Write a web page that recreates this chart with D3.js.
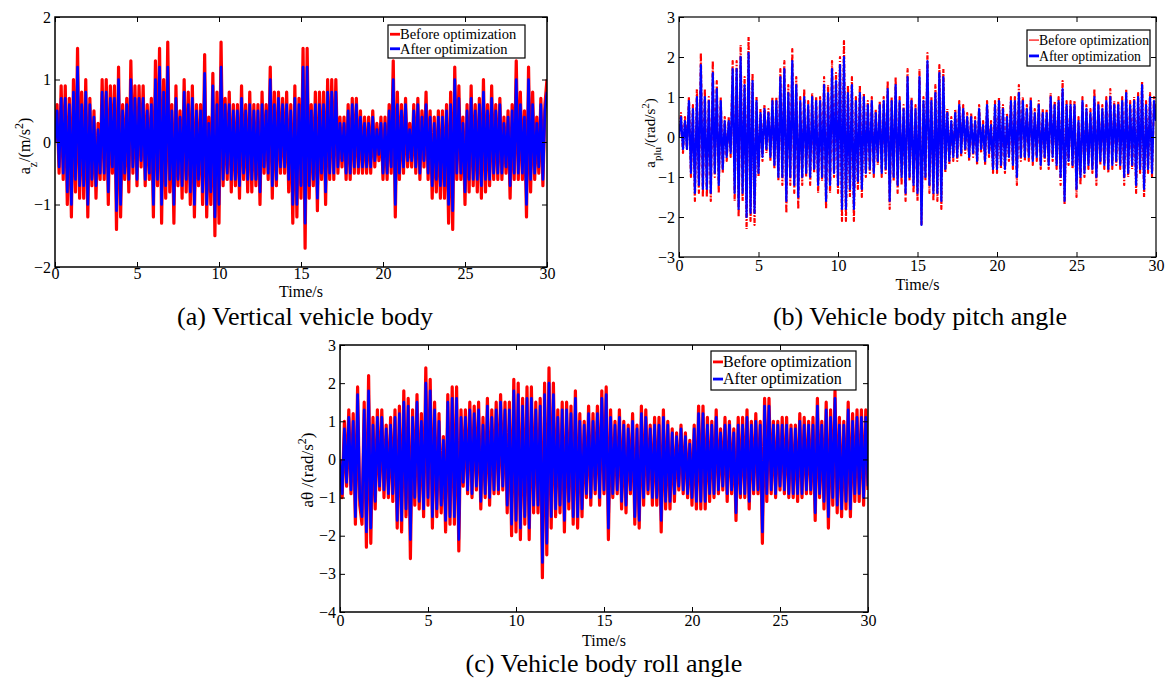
<!DOCTYPE html>
<html>
<head>
<meta charset="utf-8">
<style>
  body { margin: 0; background: #fff; }
  svg text { font-family: "Liberation Serif", "Times New Roman", serif; fill: #000; }
</style>
</head>
<body>
<svg id="fig" width="1168" height="680"></svg>
<script src="https://cdn.jsdelivr.net/npm/d3@7/dist/d3.min.js"></script>
<script>
// sample step of every series, seconds
var dt = 0.125;
var timeTicks = [0, 5, 10, 15, 20, 25, 30];
var seriesNames = ['Before optimization', 'After optimization'];

// (a) vertical body acceleration, m/s^2
var vertBefore = [
  0, 0.6, -0.5, 0.9, -0.6, 0.9, -1.0, 0.7,
  -1.2, 1.0, -0.8, 1.5, -0.9, 0.8, -0.9, 1.0,
  -1.2, 0.7, -0.7, 0.5, -0.9, 0.3, -0.6, 1.0,
  -0.6, 1.0, -1.0, 0.9, -0.5, 0.9, -1.4, 1.2,
  -1.2, 0.6, -0.6, 0.7, -0.8, 1.3, -0.5, 0.9,
  -0.7, 0.9, -0.4, 0.9, -0.7, 0.6, -0.6, 0.7,
  -1.2, 1.3, -0.7, 1.5, -1.3, 1.0, -0.9, 1.6,
  -0.8, 0.6, -1.3, 0.9, -0.7, 0.5, -0.9, 1.0,
  -0.8, 0.8, -1.0, 0.9, -1.2, 0.6, -0.7, 0.6,
  -1.0, 1.4, -1.2, 0.4, -1.0, 1.1, -1.5, 0.8,
  -1.3, 1.6, -0.7, 0.7, -0.6, 0.8, -0.8, 0.6,
  -0.7, 0.6, -0.9, 0.9, -0.6, 0.6, -0.8, 0.8,
  -0.8, 0.6, -0.7, 0.6, -1.0, 0.8, -0.5, 0.6,
  -0.6, 1.2, -0.9, 0.8, -0.7, 0.8, -0.5, 0.7,
  -0.5, 0.8, -0.8, 0.6, -1.3, 0.9, -1.2, 0.7,
  -0.9, 1.5, -1.7, 1.5, -0.9, 0.6, -0.7, 0.8,
  -1.1, 0.8, -0.6, 0.8, -1.0, 1.0, -0.6, 1.0,
  -0.6, 1.0, -0.5, 0.4, -0.4, 0.4, -0.6, 0.6,
  -0.6, 0.7, -0.5, 0.7, -0.5, 0.5, -0.5, 0.4,
  -0.5, 0.4, -0.5, 0.5, -0.4, 0.3, -0.3, 0.4,
  -0.6, 0.4, -0.6, 0.6, -0.5, 1.3, -1.2, 0.8,
  -0.6, 0.6, -0.5, 0.7, -0.4, 0.3, -0.4, 0.6,
  -0.5, 0.7, -0.6, 0.5, -0.4, 0.8, -0.6, 0.5,
  -0.9, 0.4, -0.8, 0.5, -0.9, 0.5, -0.9, 0.6,
  -1.3, 0.8, -1.4, 1.2, -0.6, 0.9, -0.6, 0.4,
  -1.0, 0.6, -0.8, 0.9, -0.7, 0.6, -0.8, 0.7,
  -0.9, 1.0, -0.8, 0.6, -0.7, 0.9, -0.6, 0.6,
  -0.6, 0.7, -0.6, 0.4, -0.5, 0.5, -0.9, 0.6,
  -0.6, 1.3, -0.6, 0.8, -0.6, 0.5, -1.2, 1.2,
  -0.8, 0.8, -0.6, 0.4, -0.5, 0.7, -0.7, 0.6,
  1.0
];
var vertAfter = [
  0, 0.5, -0.4, 0.7, -0.5, 0.7, -0.8, 0.6,
  -1.0, 0.8, -0.6, 1.2, -0.7, 0.6, -0.7, 0.8,
  -1.0, 0.6, -0.6, 0.4, -0.7, 0.2, -0.5, 0.8,
  -0.5, 0.8, -0.8, 0.7, -0.4, 0.7, -1.1, 1.0,
  -1.0, 0.5, -0.5, 0.6, -0.6, 1.0, -0.4, 0.7,
  -0.6, 0.7, -0.3, 0.7, -0.6, 0.5, -0.5, 0.6,
  -1.0, 1.0, -0.6, 1.2, -1.0, 0.8, -0.7, 1.2,
  -0.6, 0.5, -1.0, 0.7, -0.6, 0.4, -0.7, 0.8,
  -0.6, 0.6, -0.8, 0.7, -1.0, 0.5, -0.6, 0.5,
  -0.8, 1.1, -1.0, 0.3, -0.8, 0.9, -1.2, 0.6,
  -1.0, 1.2, -0.6, 0.6, -0.5, 0.6, -0.6, 0.5,
  -0.6, 0.5, -0.7, 0.7, -0.5, 0.5, -0.6, 0.6,
  -0.6, 0.5, -0.6, 0.5, -0.8, 0.6, -0.4, 0.5,
  -0.5, 1.0, -0.7, 0.6, -0.6, 0.7, -0.4, 0.6,
  -0.4, 0.6, -0.6, 0.5, -1.0, 0.7, -1.0, 0.6,
  -0.7, 1.2, -1.3, 1.2, -0.7, 0.5, -0.6, 0.6,
  -0.9, 0.6, -0.5, 0.6, -0.8, 0.8, -0.5, 0.8,
  -0.5, 0.8, -0.4, 0.3, -0.3, 0.3, -0.5, 0.5,
  -0.5, 0.6, -0.4, 0.6, -0.4, 0.4, -0.4, 0.3,
  -0.4, 0.3, -0.4, 0.4, -0.3, 0.2, -0.2, 0.3,
  -0.5, 0.3, -0.5, 0.5, -0.4, 1.0, -1.0, 0.6,
  -0.5, 0.5, -0.4, 0.6, -0.3, 0.2, -0.3, 0.5,
  -0.4, 0.6, -0.5, 0.4, -0.3, 0.6, -0.5, 0.4,
  -0.7, 0.3, -0.6, 0.4, -0.7, 0.4, -0.7, 0.5,
  -1.0, 0.6, -1.1, 1.0, -0.5, 0.7, -0.5, 0.3,
  -0.8, 0.5, -0.6, 0.7, -0.6, 0.5, -0.6, 0.6,
  -0.7, 0.8, -0.6, 0.5, -0.6, 0.7, -0.5, 0.5,
  -0.5, 0.6, -0.5, 0.3, -0.4, 0.4, -0.7, 0.5,
  -0.5, 1.0, -0.5, 0.6, -0.5, 0.4, -1.0, 1.0,
  -0.6, 0.6, -0.5, 0.3, -0.4, 0.6, -0.6, 0.5,
  0.8
];

// (b) pitch angular acceleration, rad/s^2
var pitchBefore = [
  0, 0.6, -0.4, 0.5, -0.3, 1.0, -1.0, 0.8,
  -1.6, 1.2, -1.4, 2.1, -1.5, 1.2, -1.5, 1.0,
  -1.6, 1.9, -1.0, 1.4, -1.4, 1.0, -0.9, 0.5,
  -0.6, 0.5, -0.5, 1.9, -1.6, 1.9, -2.0, 2.3,
  -1.6, 1.5, -2.3, 2.5, -2.1, 1.6, -2.2, 1.0,
  -1.0, 0.7, -0.6, 0.8, -0.4, 0.7, -0.6, 1.0,
  -0.8, 1.0, -1.1, 1.7, -1.2, 1.9, -1.9, 1.3,
  -1.2, 2.2, -1.4, 1.5, -1.8, 1.0, -1.2, 1.2,
  -1.0, 0.9, -1.2, 1.1, -0.9, 1.0, -1.4, 1.0,
  -1.1, 1.5, -1.8, 1.3, -1.4, 1.9, -1.0, 1.6,
  -1.4, 2.0, -2.1, 2.4, -2.1, 1.3, -1.5, 1.5,
  -2.1, 1.0, -1.3, 1.3, -1.5, 1.1, -1.0, 0.9,
  -0.9, 1.0, -1.0, 0.7, -0.7, 0.9, -1.0, 1.0,
  -0.9, 1.4, -1.8, 1.0, -1.1, 1.5, -1.4, 1.0,
  -1.2, 0.8, -1.6, 1.7, -1.1, 1.0, -1.4, 0.8,
  -1.6, 1.7, -2.2, 1.0, -1.1, 2.1, -1.4, 1.0,
  -1.6, 1.3, -1.6, 1.8, -1.8, 1.7, -0.9, 0.7,
  -0.7, 0.5, -0.6, 0.7, -0.6, 0.9, -0.5, 0.8,
  -0.4, 0.6, -0.6, 0.6, -0.5, 0.5, -0.7, 0.8,
  -0.4, 0.4, -0.7, 0.9, -0.5, 0.4, -0.9, 0.9,
  -0.9, 1.0, -0.8, 0.8, -0.9, 0.6, -0.6, 1.0,
  -0.8, 1.0, -1.2, 1.3, -0.6, 1.0, -0.6, 0.8,
  -0.6, 1.0, -0.7, 0.7, -0.6, 0.9, -0.8, 0.7,
  -0.6, 0.7, -0.8, 1.1, -0.6, 0.9, -0.8, 1.0,
  -1.2, 1.4, -1.7, 0.9, -0.7, 0.9, -0.8, 0.9,
  -1.5, 0.5, -1.2, 1.0, -1.0, 0.8, -0.8, 0.7,
  -0.9, 1.2, -1.2, 0.9, -0.7, 0.8, -0.8, 1.0,
  -0.9, 1.2, -0.8, 0.9, -0.7, 0.9, -0.8, 1.0,
  -1.2, 1.2, -1.0, 0.9, -0.8, 1.0, -1.4, 1.1,
  -0.9, 1.4, -1.5, 0.9, -0.9, 1.1, -1.0, 1.0,
  0.5
];
var pitchAfter = [
  0, 0.5, -0.3, 0.4, -0.3, 0.9, -0.9, 0.7,
  -1.4, 1.0, -1.2, 1.8, -1.3, 1.0, -1.3, 0.9,
  -1.4, 1.6, -0.9, 1.2, -1.2, 0.9, -0.8, 0.4,
  -0.5, 0.4, -0.4, 1.7, -1.4, 1.7, -1.8, 2.0,
  -1.4, 1.3, -2.0, 2.1, -1.9, 1.4, -1.9, 0.9,
  -0.9, 0.6, -0.5, 0.7, -0.3, 0.6, -0.5, 0.9,
  -0.7, 0.9, -1.0, 1.5, -1.0, 1.7, -1.6, 1.1,
  -1.0, 1.9, -1.2, 1.3, -1.5, 0.9, -1.0, 1.0,
  -0.9, 0.8, -1.0, 1.0, -0.8, 0.9, -1.2, 0.9,
  -1.0, 1.3, -1.6, 1.1, -1.2, 1.7, -0.9, 1.4,
  -1.2, 1.8, -1.8, 2.0, -1.8, 1.1, -1.3, 1.3,
  -1.8, 0.9, -1.1, 1.1, -1.3, 1.0, -0.9, 0.8,
  -0.8, 0.9, -0.9, 0.6, -0.6, 0.8, -0.9, 0.9,
  -0.8, 1.2, -1.6, 0.9, -1.0, 1.3, -1.2, 0.9,
  -1.0, 0.7, -1.4, 1.5, -1.0, 0.9, -1.2, 0.7,
  -1.4, 1.5, -2.2, 0.9, -1.0, 1.9, -1.2, 0.9,
  -1.4, 1.1, -1.4, 1.6, -1.6, 1.5, -0.8, 0.6,
  -0.6, 0.4, -0.5, 0.6, -0.5, 0.8, -0.4, 0.7,
  -0.3, 0.5, -0.5, 0.5, -0.4, 0.4, -0.6, 0.7,
  -0.3, 0.3, -0.6, 0.8, -0.4, 0.3, -0.8, 0.8,
  -0.8, 0.9, -0.7, 0.7, -0.8, 0.5, -0.5, 0.9,
  -0.7, 0.9, -1.0, 1.1, -0.5, 0.9, -0.5, 0.7,
  -0.5, 0.9, -0.6, 0.6, -0.5, 0.8, -0.7, 0.6,
  -0.5, 0.6, -0.7, 1.0, -0.5, 0.8, -0.7, 0.9,
  -1.0, 1.2, -1.6, 0.8, -0.6, 0.8, -0.7, 0.8,
  -1.3, 0.4, -1.0, 0.9, -0.9, 0.7, -0.7, 0.6,
  -0.8, 1.0, -1.0, 0.8, -0.6, 0.7, -0.7, 0.9,
  -0.8, 1.0, -0.7, 0.8, -0.6, 0.8, -0.7, 0.9,
  -1.0, 1.1, -0.9, 0.8, -0.7, 0.9, -1.2, 1.0,
  -0.8, 1.3, -1.3, 0.8, -0.8, 1.0, -0.9, 0.9,
  0.4
];

// (c) roll angular acceleration, rad/s^2
var rollBefore = [
  0, -1.0, 1.0, -0.7, 1.3, -0.9, 1.2, -1.7,
  1.9, -1.2, -1.7, 1.5, -2.3, 2.2, -2.2, 1.1,
  -1.3, 1.3, -0.8, 1.3, -1.0, 0.9, -1.0, 1.1,
  -1.1, 1.3, -1.8, 1.4, -1.9, 1.8, -1.5, 1.6,
  -2.6, 1.3, -1.2, 1.7, -1.3, 1.2, -1.5, 2.4,
  -1.2, 2.1, -1.8, 1.5, -1.5, 1.2, -1.4, 0.6,
  -1.9, 1.7, -1.7, 1.9, -1.7, 1.9, -2.4, 1.3,
  -0.7, 1.3, -0.9, 1.5, -1.0, 1.4, -0.8, 1.5,
  -1.3, 1.1, -1.0, 1.6, -1.2, 1.3, -0.9, 1.5,
  -0.9, 1.7, -0.8, 1.5, -1.4, 1.5, -2.0, 2.1,
  -1.9, 2.0, -2.1, 1.6, -1.7, 1.9, -2.1, 1.9,
  -1.4, 1.5, -1.4, 1.6, -3.1, 2.0, -2.5, 2.4,
  -1.8, 2.0, -1.5, 1.3, -1.4, 1.5, -1.9, 1.5,
  -1.3, 1.4, -1.7, 1.8, -1.8, 1.2, -1.5, 1.0,
  -1.0, 1.4, -1.2, 1.2, -0.9, 1.4, -1.2, 1.8,
  -0.9, 1.9, -2.1, 1.3, -1.0, 1.0, -0.9, 1.3,
  -1.3, 1.0, -1.4, 0.9, -0.9, 1.2, -1.7, 0.9,
  -1.8, 1.4, -1.2, 1.3, -0.9, 0.9, -1.2, 1.1,
  -1.2, 1.1, -1.9, 1.3, -1.3, 1.0, -1.3, 0.8,
  -1.1, 0.7, -0.8, 0.9, -0.9, 0.7, -1.0, 0.5,
  -1.2, 0.9, -1.3, 1.4, -1.3, 1.4, -1.3, 1.1,
  -1.1, 1.0, -1.0, 1.3, -0.9, 0.8, -0.8, 1.1,
  -1.1, 1.0, -0.9, 0.8, -1.6, 1.1, -1.0, 1.1,
  -1.0, 1.3, -1.3, 1.0, -0.9, 1.2, -0.9, 1.0,
  -2.2, 1.6, -1.1, 1.6, -0.9, 1.0, -1.0, 1.0,
  -0.8, 1.1, -0.9, 1.1, -1.0, 0.9, -1.0, 0.9,
  -1.1, 1.2, -1.0, 1.1, -0.9, 1.0, -0.9, 1.1,
  -1.6, 1.6, -1.0, 1.0, -1.3, 1.5, -1.8, 1.3,
  -1.2, 1.8, -1.4, 1.1, -1.5, 1.0, -1.3, 1.5,
  -1.5, 1.2, -1.1, 1.3, -1.1, 1.3, -1.2, 1.3,
  -0.8
];
var rollAfter = [
  0, -0.9, 0.8, -0.6, 1.1, -0.8, 1.0, -1.5,
  1.7, -1.0, -1.5, 1.3, -1.9, 1.8, -1.8, 0.9,
  -1.1, 1.1, -0.7, 1.1, -0.8, 0.8, -0.9, 0.9,
  -0.9, 1.1, -1.6, 1.2, -1.6, 1.5, -1.3, 1.4,
  -2.1, 1.1, -1.0, 1.5, -1.1, 1.0, -1.3, 2.0,
  -1.0, 1.8, -1.5, 1.3, -1.3, 1.0, -1.2, 0.5,
  -1.6, 1.5, -1.5, 1.6, -1.5, 1.6, -2.1, 1.1,
  -0.6, 1.1, -0.8, 1.3, -0.9, 1.2, -0.7, 1.3,
  -1.1, 0.9, -0.9, 1.4, -1.0, 1.1, -0.8, 1.3,
  -0.8, 1.5, -0.7, 1.3, -1.2, 1.3, -1.7, 1.8,
  -1.6, 1.7, -1.8, 1.4, -1.5, 1.6, -1.8, 1.6,
  -1.2, 1.3, -1.2, 1.4, -2.7, 1.7, -2.2, 2.0,
  -1.5, 1.7, -1.3, 1.1, -1.2, 1.3, -1.6, 1.3,
  -1.1, 1.2, -1.5, 1.6, -1.5, 1.0, -1.3, 0.9,
  -0.9, 1.2, -1.0, 1.0, -0.8, 1.2, -1.0, 1.6,
  -0.8, 1.7, -1.8, 1.1, -0.9, 0.9, -0.8, 1.1,
  -1.1, 0.9, -1.2, 0.8, -0.8, 1.0, -1.5, 0.8,
  -1.6, 1.2, -1.0, 1.1, -0.8, 0.8, -1.0, 0.9,
  -1.0, 0.9, -1.6, 1.1, -1.1, 0.9, -1.1, 0.7,
  -0.9, 0.6, -0.7, 0.8, -0.8, 0.6, -0.9, 0.4,
  -1.0, 0.8, -1.1, 1.2, -1.1, 1.2, -1.1, 0.9,
  -0.9, 0.9, -0.9, 1.1, -0.8, 0.7, -0.7, 0.9,
  -0.9, 0.9, -0.8, 0.7, -1.4, 0.9, -0.9, 0.9,
  -0.9, 1.1, -1.1, 0.9, -0.8, 1.0, -0.8, 0.9,
  -1.9, 1.4, -0.9, 1.4, -0.8, 0.9, -0.9, 0.9,
  -0.7, 0.9, -0.8, 0.9, -0.9, 0.8, -0.9, 0.8,
  -0.9, 1.0, -0.9, 0.9, -0.8, 0.9, -0.8, 0.9,
  -1.4, 1.4, -0.9, 0.9, -1.1, 1.3, -1.5, 1.1,
  -1.0, 1.6, -1.2, 0.9, -1.3, 0.9, -1.1, 1.3,
  -1.3, 1.0, -0.9, 1.1, -0.9, 1.1, -1.0, 1.1,
  -0.7
];

var svg = d3.select('#fig');
svg.append('rect').attr('width', 1168).attr('height', 680).attr('fill', '#fff');

function panel(o) {
  var g = svg.append('g');
  var x = d3.scaleLinear().domain([0, 30]).range([o.left, o.right]);
  var y = d3.scaleLinear().domain(o.yDomain).range([o.bottom, o.top]);
  var yTicks = d3.range(o.yDomain[0], o.yDomain[1] + 1);

  var clipId = 'clip-' + o.id;
  svg.append('clipPath').attr('id', clipId)
    .append('rect').attr('x', o.left).attr('y', o.top)
    .attr('width', o.right - o.left).attr('height', o.bottom - o.top);

  var line = d3.line().x(function(d, i) { return x(i * dt); }).y(function(d) { return y(d); });
  var plot = g.append('g').attr('clip-path', 'url(#' + clipId + ')');
  plot.append('path').datum(o.before).attr('d', line)
    .attr('fill', 'none').attr('stroke', '#ff0000').attr('stroke-width', o.redW)
    .attr('stroke-linejoin', 'round')
    .attr('stroke-dasharray', o.dash || null);
  plot.append('path').datum(o.after).attr('d', line)
    .attr('fill', 'none').attr('stroke', '#0000ff').attr('stroke-width', o.blueW)
    .attr('stroke-linejoin', 'round');

  // matlab style box: ticks point inward on all four sides
  function style(a) {
    a.select('.domain').remove();
    a.selectAll('.tick line').attr('stroke', '#000').attr('stroke-width', 1);
    a.selectAll('text').attr('font-family', '"Liberation Serif", serif')
      .attr('font-size', o.tickFont).attr('fill', '#000');
  }
  g.append('g').attr('transform', 'translate(0,' + o.bottom + ')')
    .call(d3.axisBottom(x).tickValues(timeTicks).tickSizeInner(-5).tickSizeOuter(0).tickPadding(o.xPad))
    .call(style);
  g.append('g').attr('transform', 'translate(0,' + o.top + ')')
    .call(d3.axisTop(x).tickValues(timeTicks).tickSizeInner(-5).tickSizeOuter(0).tickFormat(''))
    .call(style);
  g.append('g').attr('transform', 'translate(' + o.left + ',0)')
    .call(d3.axisLeft(y).tickValues(yTicks).tickSizeInner(-5).tickSizeOuter(0).tickPadding(4).tickFormat(d3.format('d')))
    .call(style);
  g.append('g').attr('transform', 'translate(' + o.right + ',0)')
    .call(d3.axisRight(y).tickValues(yTicks).tickSizeInner(-5).tickSizeOuter(0).tickFormat(''))
    .call(style);

  g.append('rect').attr('x', o.left).attr('y', o.top)
    .attr('width', o.right - o.left).attr('height', o.bottom - o.top)
    .attr('fill', 'none').attr('stroke', '#000').attr('stroke-width', o.frameW);

  // legend
  var L = o.legend;
  var lg = g.append('g');
  lg.append('rect').attr('x', L.x).attr('y', L.y).attr('width', L.w).attr('height', L.h)
    .attr('fill', '#fff').attr('stroke', '#000').attr('stroke-width', 1.2);
  [['#ff0000', L.redW], ['#0000ff', 2.8]].forEach(function(s, i) {
    var cy = L.y + L.h * (i === 0 ? 0.28 : 0.72);
    lg.append('line').attr('x1', L.x + 2).attr('x2', L.x + 12).attr('y1', cy).attr('y2', cy)
      .attr('stroke', s[0]).attr('stroke-width', s[1]);
    lg.append('text').attr('x', L.x + 12).attr('y', cy + L.font * 0.33)
      .attr('font-size', L.font).attr('textLength', L.tl ? L.tl[i] : null)
      .attr('lengthAdjust', 'spacingAndGlyphs')
      .text(seriesNames[i]);
  });

  g.append('text').attr('x', (o.left + o.right) / 2).attr('y', o.bottom + o.xLabelDy)
    .attr('text-anchor', 'middle').attr('font-size', o.tickFont).text('Time/s');

  var yl = g.append('text').attr('transform', 'translate(' + o.yLabelX + ',' + o.yLabelY + ') rotate(-90)')
    .attr('text-anchor', 'middle').attr('font-size', o.yFont);
  o.yLabel(yl);

  svg.append('text').attr('x', o.capX).attr('y', o.capY).attr('text-anchor', 'middle')
    .attr('font-size', 26).text(o.caption);
}

panel({
  id: 'a', left: 55, right: 547, top: 17, bottom: 267, yDomain: [-2, 2],
  before: vertBefore, after: vertAfter, redW: 3.2, blueW: 2.7, frameW: 1.5, tickFont: 16, yFont: 16, xPad: 1,
  legend: { x: 388, y: 25, w: 137, h: 33, font: 14.5, redW: 2.8 },
  xLabelDy: 30, yLabelX: 30, yLabelY: 146,
  yLabel: function(t) {
    t.append('tspan').text('a');
    t.append('tspan').attr('baseline-shift', 'sub').attr('font-size', 12).text('z');
    t.append('tspan').text('/(m/s');
    t.append('tspan').attr('baseline-shift', 'super').attr('font-size', 12).text('2');
    t.append('tspan').text(')');
  },
  caption: '(a) Vertical vehicle body', capX: 305, capY: 325
});

panel({
  id: 'b', left: 679, right: 1156, top: 17, bottom: 257, yDomain: [-3, 3],
  before: pitchBefore, after: pitchAfter, redW: 2.2, blueW: 2.2, dash: '4,2,1,2', frameW: 1.2, tickFont: 16, yFont: 15, xPad: 3,
  legend: { x: 1027, y: 30, w: 123, h: 36, font: 14, tl: [110, 102], redW: 1.2 },
  xLabelDy: 33, yLabelX: 655, yLabelY: 133,
  yLabel: function(t) {
    t.append('tspan').text('a');
    t.append('tspan').attr('baseline-shift', 'sub').attr('font-size', 11).text('plu');
    t.append('tspan').text('/(rad/s');
    t.append('tspan').attr('baseline-shift', 'super').attr('font-size', 11).text('2');
    t.append('tspan').text(')');
  },
  caption: '(b) Vehicle body pitch angle', capX: 920, capY: 325
});

panel({
  id: 'c', left: 340, right: 868, top: 345, bottom: 612, yDomain: [-4, 3],
  before: rollBefore, after: rollAfter, redW: 3.2, blueW: 2.7, frameW: 1.5, tickFont: 16, yFont: 17, xPad: 3,
  legend: { x: 711, y: 351, w: 145, h: 39, font: 16, redW: 2.8 },
  xLabelDy: 34, yLabelX: 313, yLabelY: 470,
  yLabel: function(t) {
    t.append('tspan').text('a\u03b8  /(rad/s');
    t.append('tspan').attr('baseline-shift', 'super').attr('font-size', 12).text('2');
    t.append('tspan').text(')');
  },
  caption: '(c) Vehicle body roll angle', capX: 604, capY: 672
});
</script>
</body>
</html>
